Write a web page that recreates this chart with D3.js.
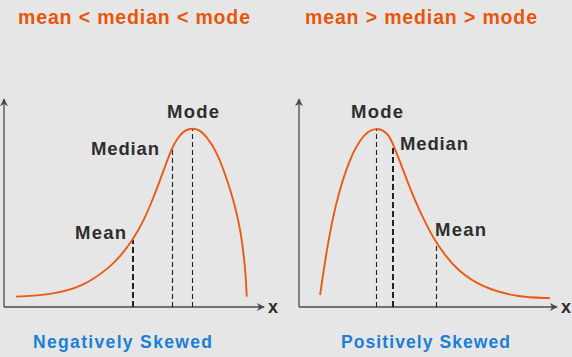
<!DOCTYPE html>
<html><head><meta charset="utf-8">
<script src="https://cdn.jsdelivr.net/npm/d3@7"></script>
<style>
html,body{margin:0;padding:0;background:#e6e6e6;}
svg{display:block;font-family:"Liberation Sans",Arial,sans-serif;}
</style></head><body>
<svg id="c" width="572" height="357"></svg>
<script>
// ---- data (x: value 0-100 along axis, y: frequency 0-100) ----
const titles = ["mean < median < mode", "mean > median > mode"];
const captions = ["Negatively Skewed", "Positively Skewed"];
const negX = [4.7, 18.0, 30.9, 41.4, 45.3, 50.3, 54.4, 58.3, 62.2, 65.5, 68.1, 70.7, 73.3, 75.9, 79.2, 83.1, 87.0, 90.2, 92.5, 93.8, 94.5, 94.8];
const negY = [5.0, 5.8, 9.7, 19.3, 24.3, 32.4, 41.2, 52.5, 65.4, 76.7, 82.3, 85.5, 86.3, 86.0, 82.3, 75.0, 62.2, 49.3, 36.4, 23.5, 13.9, 5.0];
const posX = [8.3, 10.2, 12.9, 16.1, 20.1, 24.0, 27.3, 30.2, 33.2, 35.8, 37.1, 39.8, 43.7, 47.6, 51.6, 53.9, 57.5, 62.2, 72.4, 85.8, 98.8];
const posY = [5.8, 21.9, 41.2, 57.3, 71.8, 80.7, 85.0, 86.3, 85.5, 82.3, 78.3, 70.2, 57.3, 46.0, 36.4, 31.3, 25.1, 17.9, 9.2, 4.8, 4.3];
const statNames = ["Mean", "Median", "Mode"];
const negStatX = [50.3, 65.5, 73.3];
const negStatY = [32.4, 76.7, 86.3];
const posStatX = [53.9, 37.1, 30.2];
const posStatY = [31.3, 78.3, 86.3];

const ORANGE = "#e8560c", CURVE = "#ea5a12", BLUE = "#1b7fd6", DARK = "#2e2e2e", AXIS = "#4a4a4a";
const svg = d3.select("#c");

const defs = svg.append("defs");
defs.append("marker").attr("id","arr").attr("viewBox","0 0 10 10").attr("refX",9).attr("refY",5)
  .attr("markerWidth",9).attr("markerHeight",8).attr("markerUnits","userSpaceOnUse").attr("orient","auto")
  .append("path").attr("d","M0,0 L10,5 L0,10 L3,5 Z").attr("fill",AXIS);

const panels = [
  {x0:4, x1:264, w:256, yTop:99, yBase:307, title:titles[0], tx:18, cap:captions[0], cx:33,
   xs:negX, ys:negY, sx:negStatX, sy:negStatY,
   labels:[{x:75,y:239},{x:91,y:155},{x:167,y:118}]},
  {x0:299, x1:557, w:254, yTop:99, yBase:307, title:titles[1], tx:305, cap:captions[1], cx:341,
   xs:posX, ys:posY, sx:posStatX, sy:posStatY,
   labels:[{x:435,y:236},{x:400,y:150},{x:351,y:118}]}
];

panels.forEach((p,pi)=>{
  const g = svg.append("g");
  const x = d3.scaleLinear().domain([0,100]).range([p.x0, p.x0 + p.w]);
  const y = d3.scaleLinear().domain([0,100]).range([p.yBase, p.yBase-207]);

  g.append("text").attr("x",p.tx).attr("y",24).text(p.title)
    .attr("fill",ORANGE).attr("font-weight","bold").attr("font-size",19.5)
    .attr("textLength", 232).attr("lengthAdjust","spacing");
  g.append("text").attr("x",p.cx).attr("y",348).text(p.cap)
    .attr("fill",BLUE).attr("font-weight","bold").attr("font-size",17.5)
    .attr("textLength", pi===0?179:169).attr("lengthAdjust","spacing");

  g.append("line").attr("x1",p.x0).attr("y1",p.yBase).attr("x2",p.x0).attr("y2",p.yTop)
    .attr("stroke",AXIS).attr("stroke-width",1.3).attr("marker-end","url(#arr)");
  g.append("line").attr("x1",p.x0).attr("y1",p.yBase).attr("x2",p.x1).attr("y2",p.yBase)
    .attr("stroke",AXIS).attr("stroke-width",1.3).attr("marker-end","url(#arr)");
  g.append("text").attr("x",p.x1+4).attr("y",p.yBase+6).text("x")
    .attr("fill",DARK).attr("font-weight","bold").attr("font-size",18);

  p.sx.forEach((v,i)=>{
    const thick = (pi===0 && i===0) || (pi===1 && i===1);
    const px = Math.round(x(v)) + (thick ? 0 : 0.5);
    g.append("line").attr("x1",px).attr("x2",px).attr("y1",p.yBase).attr("y2",y(p.sy[i]))
      .attr("stroke","#222").attr("stroke-width", thick?2:1.1)
      .attr("stroke-dasharray", thick?"6,3":"5,3");
  });

  const pts = p.xs.map((v,i)=>[v,p.ys[i]]);
  g.append("path").datum(pts)
    .attr("d", d3.line().x(d=>x(d[0])).y(d=>y(d[1])).curve(d3.curveBasis))
    .attr("fill","none").attr("stroke",CURVE).attr("stroke-width",1.9);

  p.labels.forEach((l,i)=>{
    g.append("text").attr("x",l.x).attr("y",l.y).text(statNames[i])
      .attr("fill",DARK).attr("font-weight","bold").attr("font-size",18.5)
      .attr("textLength", i===0?51:(i===1?68:52)).attr("lengthAdjust","spacing");
  });
});
</script>
</body></html>
